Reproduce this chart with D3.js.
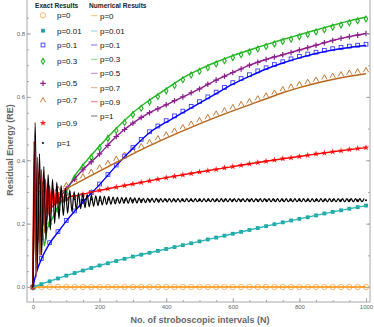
<!DOCTYPE html>
<html>
<head>
<meta charset="utf-8">
<script src="https://cdn.jsdelivr.net/npm/d3@7"></script>
<style>
  body { margin: 0; background: #fff; }
  svg { display: block; font-family: "Liberation Sans", Arial, sans-serif; }
</style>
</head>
<body>
<div id="chart"></div>
<script>
// ---- data ----
const labels = ["p=0", "p=0.01", "p=0.1", "p=0.3", "p=0.5", "p=0.7", "p=0.9", "p=1"];
const xTicks = [0, 200, 400, 600, 800, 1000];
const yTicks = [0.0, 0.2, 0.4, 0.6, 0.8];

// exact results, sampled every 25 intervals (N = 0, 25, ... 1000)
const exactStep = 25;
const exactP0 = [0,0,0,0,0,0,0,0,0,0, 0,0,0,0,0,0,0,0,0,0, 0,0,0,0,0,0,0,0,0,0, 0,0,0,0,0,0,0,0,0,0, 0];
const exactP001 = [0,.009,.018,.027,.036,.044,.052,.06,.068,.075, .082,.089,.096,.102,.108,.114,.12,.126,.132,.138,
  .144,.15,.156,.162,.168,.174,.18,.186,.192,.198, .204,.21,.215,.22,.226,.232,.237,.242,.247,.252, .257];
const exactP01 = [0,.09,.14,.175,.21,.24,.27,.298,.325,.355, .385,.413,.44,.466,.49,.508,.525,.54,.555,.57,
  .585,.6,.615,.63,.645,.658,.67,.682,.692,.702, .711,.72,.728,.735,.741,.747,.752,.756,.76,.763, .766];
const exactP03 = [0,.18,.2,.245,.294,.344,.379,.409,.439,.469, .494,.519,.544,.564,.584,.601,.619,.636,.654,.669,
  .681,.692,.704,.714,.724,.733,.742,.751,.759,.767, .775,.782,.79,.797,.805,.812,.82,.827,.834,.84, .846];
const exactP05 = [0,.15,.24,.27,.31,.34,.37,.395,.42,.447, .475,.497,.517,.535,.55,.562,.575,.588,.6,.613,
  .625,.64,.653,.665,.677,.688,.7,.709,.718,.726, .733,.74,.748,.755,.763,.771,.778,.785,.79,.795, .8];
const exactP07 = [0,.33,.27,.31,.322,.336,.35,.364,.378,.392, .405,.418,.432,.445,.458,.47,.482,.494,.505,.516,
  .527,.537,.548,.558,.568,.578,.587,.596,.605,.614, .625,.633,.641,.648,.655,.662,.667,.672,.677,.681, .685];
const exactP09 = [0,.3,.29,.29,.28,.287,.293,.299,.305,.31, .315,.32,.325,.33,.335,.34,.345,.349,.354,.358,
  .363,.367,.371,.376,.38,.384,.389,.393,.397,.401, .405,.408,.412,.416,.42,.423,.427,.43,.434,.437, .44];
const exactP1 = [0,.3,.27,.28,.272,.277,.274,.276,.273,.275, .274,.274,.274,.274,.274,.274,.274,.274,.274,.274,
  .274,.274,.274,.274,.274,.274,.274,.274,.274,.274, .274,.274,.274,.274,.274,.274,.274,.274,.274,.274, .274];

// numerical results, [N, RE]
const numP0 = [[0, 0], [1000, 0]];
const numP001 = [[0,0],[100,.036],[200,.068],[300,.096],[400,.12],[500,.144],[600,.168],[700,.192],[800,.215],[900,.237],[1000,.257]];
const numP01 = [[0,0],[5,.025],[10,.045],[25,.088],[50,.138],[75,.173],[100,.208],[150,.268],[200,.323],[250,.383],
  [300,.438],[350,.487],[400,.52],[450,.55],[500,.58],[550,.61],[600,.64],[650,.665],[700,.688],[750,.707],
  [800,.723],[850,.737],[900,.748],[950,.756],[1000,.762]];
const numP03 = [[0,0],[4,.3],[9,.05],[15,.26],[21,.14],[27,.2],[34,.13],[42,.18],[50,.2],[60,.22],[70,.24],[80,.26],
  [90,.28],[100,.3],[125,.35],[150,.385],[200,.445],[250,.5],[300,.55],[350,.59],[400,.625],[450,.66],[500,.687],
  [550,.71],[600,.73],[650,.748],[700,.765],[750,.781],[800,.796],[850,.811],[900,.826],[950,.84],[1000,.852]];
const numP05 = [[0,0],[4,.38],[9,.03],[15,.3],[21,.1],[28,.22],[35,.19],[45,.23],[55,.25],[65,.26],[80,.28],[100,.31],
  [150,.37],[200,.42],[250,.475],[300,.517],[350,.55],[400,.575],[450,.6],[500,.625],[550,.653],[600,.677],
  [650,.7],[700,.718],[750,.733],[800,.748],[850,.763],[900,.778],[950,.79],[1000,.8]];
const numP07 = [[0,0],[4,.42],[9,.04],[15,.36],[21,.1],[28,.33],[35,.17],[42,.31],[50,.22],[58,.3],[66,.26],[75,.295],
  [85,.3],[100,.31],[150,.338],[200,.366],[250,.393],[300,.42],[350,.446],[400,.47],[450,.493],[500,.515],[550,.536],
  [600,.556],[650,.575],[700,.594],[750,.613],[800,.629],[850,.643],[900,.655],[950,.665],[1000,.673]];
const numP09 = [[0,0],[3,.46],[8,.08],[13,.41],[19,.14],[25,.37],[31,.2],[37,.34],[43,.23],[49,.32],[55,.245],[61,.31],
  [67,.255],[73,.303],[79,.262],[85,.298],[91,.268],[97,.293],[103,.274],[110,.286],[125,.287],[150,.293],[200,.305],
  [250,.315],[300,.325],[400,.345],[500,.363],[600,.38],[700,.397],[800,.412],[900,.427],[1000,.44]];
// p=1 oscillates the whole way: turning points every 6.5 intervals
const numP1Step = 6.5;
const numP1 = [
  0,.52,.06,.42,.10,.38,.15,.355,.18,.34,
  .20,.33,.215,.32,.225,.312,.232,.306,.238,.301,
  .243,.297,.247,.294,.25,.292,.253,.29,.255,.288,
  .257,.287,.259,.286,.26,.285,.261,.284,.262,.283,
  .263,.283,.264,.282,.264,.282,.265,.281,.265,.281,
  .266,.28,.266,.28,.267,.28,.267,.28,.267,.279,
  .268,.279,.268,.279,.268,.279,.268,.279,.268,.279,
  .269,.279,.269,.279,.269,.279,.269,.279,.269,.279,
  .269,.279,.269,.279,.269,.279,.269,.279,.269,.279,
  .269,.279,.269,.279,.269,.279,.269,.279,.269,.279,
  .269,.279,.269,.279,.269,.279,.269,.279,.269,.279,
  .269,.279,.269,.279,.269,.279,.269,.279,.269,.279,
  .269,.279,.269,.279,.269,.279,.269,.279,.269,.279,
  .269,.279,.269,.279,.269,.279,.269,.279,.269,.279,
  .269,.279,.269,.279,.269,.279,.269,.279,.269,.279,
  .269,.279,.269,.279
];

// ---- chart ----
const W = 374, H = 327;
const frame = {left: 27, right: 370, top: -1, bottom: 302};

const svg = d3.select("#chart").append("svg")
  .attr("width", W).attr("height", H);

const x = d3.scaleLinear().domain([0, 1000]).range([33, 366]);
const y = d3.scaleLinear().domain([0, 0.8]).range([287, 33.5]);

const colors = {
  line:   ["#ff8c00", "#2ab3b3", "#0000ff", "#1fb81f", "#8e1e8e", "#b8651b", "#ff0000", "#000000"],
  marker: ["#ffae5c", "#19a3a3", "#3d3dff", "#22b022", "#8e1e8e", "#c06a20", "#ff2020", "#000000"]
};

// marker painters
function drawMarker(g, i, cx, cy) {
  const c = colors.marker[i];
  if (i === 0) {
    g.append("circle").attr("cx", cx).attr("cy", cy).attr("r", 2.7)
      .attr("fill", "none").attr("stroke", c).attr("stroke-width", 0.9);
  } else if (i === 1) {
    g.append("rect").attr("x", cx - 1.9).attr("y", cy - 1.9).attr("width", 3.8).attr("height", 3.8).attr("fill", c);
  } else if (i === 2) {
    g.append("rect").attr("x", cx - 1.9).attr("y", cy - 1.9).attr("width", 3.8).attr("height", 3.8)
      .attr("fill", "none").attr("stroke", c).attr("stroke-width", 0.9);
  } else if (i === 3) {
    g.append("path").attr("transform", `translate(${cx},${cy})`)
      .attr("d", d3.symbol().type(d3.symbolDiamond).size(10)())
      .attr("fill", "none").attr("stroke", c).attr("stroke-width", 1.1);
  } else if (i === 4) {
    g.append("path").attr("transform", `translate(${cx},${cy})`)
      .attr("d", "M-2.8,0H2.8M0,-2.8V2.8")
      .attr("stroke", c).attr("stroke-width", 1.2);
  } else if (i === 5) {
    g.append("path").attr("transform", `translate(${cx},${cy})`)
      .attr("d", "M-2.7,2.3L0,-2.5L2.7,2.3")
      .attr("fill", "none").attr("stroke", c).attr("stroke-width", 0.9);
  } else if (i === 6) {
    g.append("path").attr("transform", `translate(${cx},${cy})`)
      .attr("d", d3.symbol().type(d3.symbolStar).size(13)())
      .attr("fill", c);
  } else {
    g.append("circle").attr("cx", cx).attr("cy", cy).attr("r", 1).attr("fill", c);
  }
}

svg.append("clipPath").attr("id", "plotclip").append("rect")
  .attr("x", frame.left).attr("y", frame.top)
  .attr("width", frame.right - frame.left).attr("height", frame.bottom - frame.top);

const plot = svg.append("g").attr("clip-path", "url(#plotclip)");

const exactSeries = [exactP0, exactP001, exactP01, exactP03, exactP05, exactP07, exactP09, exactP1];
const numSeries = [numP0, numP001, numP01, numP03, numP05, numP07, numP09,
  numP1.map((v, k) => [k * numP1Step, v])];

// exact markers
exactSeries.forEach((vals, i) => {
  const g = plot.append("g");
  vals.forEach((v, k) => drawMarker(g, i, x(k * exactStep), y(v)));
});

// numerical lines
const line = d3.line().x(d => x(d[0])).y(d => y(d[1])).curve(d3.curveMonotoneX);
numSeries.forEach((pts, i) => {
  plot.append("path").datum(pts)
    .attr("d", line)
    .attr("fill", "none")
    .attr("stroke", colors.line[i])
    .attr("stroke-width", i === 7 ? 1.2 : 1.4)
    .attr("stroke-linejoin", "round");
});

// frame and ticks
svg.append("rect")
  .attr("x", frame.left).attr("y", frame.top)
  .attr("width", frame.right - frame.left).attr("height", frame.bottom - frame.top)
  .attr("fill", "none").attr("stroke", "#a8a8a8").attr("stroke-width", 1);

function tickStyle(g) {
  g.select(".domain").remove();
  g.selectAll(".tick line").attr("stroke", "#a8a8a8");
  g.selectAll(".tick text").attr("fill", "#666").attr("font-size", 6);
}

svg.append("g").attr("transform", `translate(0,${frame.bottom})`)
  .call(d3.axisBottom(x).tickValues(xTicks).tickSize(-4).tickPadding(3).tickFormat(d3.format("d")))
  .call(tickStyle);
svg.append("g").attr("transform", `translate(0,${frame.bottom})`)
  .call(d3.axisBottom(x).tickValues(d3.range(0, 1001, 50)).tickSize(-2).tickFormat(""))
  .call(tickStyle);
svg.append("g").attr("transform", `translate(${frame.left},0)`)
  .call(d3.axisLeft(y).tickValues(yTicks).tickSize(-4).tickPadding(2).tickFormat(d3.format(".1f")))
  .call(tickStyle);
svg.append("g").attr("transform", `translate(${frame.left},0)`)
  .call(d3.axisLeft(y).tickValues(d3.range(0, 0.86, 0.05)).tickSize(-2).tickFormat(""))
  .call(tickStyle);
svg.append("g").attr("transform", `translate(${frame.right},0)`)
  .call(d3.axisRight(y).tickValues(yTicks).tickSize(-4).tickFormat(""))
  .call(tickStyle);
svg.append("g").attr("transform", `translate(${frame.right},0)`)
  .call(d3.axisRight(y).tickValues(d3.range(0, 0.86, 0.1)).tickSize(-2).tickFormat(""))
  .call(tickStyle);

// axis titles
svg.append("text")
  .attr("x", 200).attr("y", 323)
  .attr("text-anchor", "middle")
  .attr("font-size", 9).attr("font-weight", "bold").attr("fill", "#666")
  .text("No. of stroboscopic intervals (N)");
svg.append("text")
  .attr("transform", "translate(13,150) rotate(-90)")
  .attr("text-anchor", "middle")
  .attr("font-size", 9).attr("font-weight", "bold").attr("fill", "#666")
  .text("Residual Energy (RE)");

// legends
const legend = svg.append("g");
legend.append("text").attr("x", 35).attr("y", 8)
  .attr("font-size", 6.6).attr("font-weight", "bold").attr("fill", "#222").text("Exact Results");
legend.append("text").attr("x", 89).attr("y", 8)
  .attr("font-size", 6.6).attr("font-weight", "bold").attr("fill", "#222").text("Numerical Results");

const exactRows = [15.3, 30.7, 45, 61.3, 83.3, 100, 123, 143];
const numRows = [15.7, 31, 45, 59.3, 73.3, 87.7, 101.7, 116];

labels.forEach((lab, i) => {
  drawMarker(legend, i, 43, exactRows[i]);
  legend.append("text").attr("x", 57).attr("y", exactRows[i] + 2.8)
    .attr("font-size", 8).attr("fill", "#111").text(lab);

  legend.append("line")
    .attr("x1", 91).attr("x2", 97.5).attr("y1", numRows[i]).attr("y2", numRows[i])
    .attr("stroke", colors.line[i]).attr("stroke-opacity", 0.55).attr("stroke-width", 1);
  legend.append("text").attr("x", 100).attr("y", numRows[i] + 2.8)
    .attr("font-size", 8).attr("fill", "#111").text(lab);
});
</script>
</body>
</html>
